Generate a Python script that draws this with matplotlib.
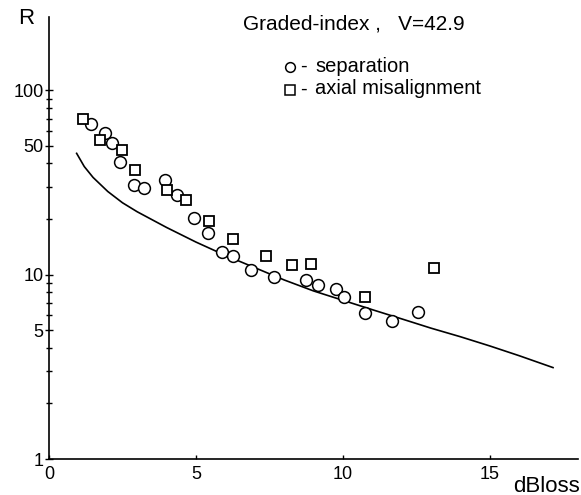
import matplotlib
matplotlib.use("Agg")
import matplotlib.pyplot as plt
from matplotlib.ticker import FixedLocator, NullFormatter
from matplotlib.lines import Line2D

plt.rcParams['font.family'] = ['Liberation Sans', 'DejaVu Sans']

# separation (circles)
sep_x = [1.42, 1.90, 2.13, 2.41, 2.90, 3.23, 3.95, 4.34, 4.94, 5.40, 5.87, 6.27,
         6.86, 7.65, 8.73, 9.16, 9.78, 10.03, 10.76, 11.67, 12.56]
sep_y = [65.2, 58.7, 51.8, 40.6, 30.4, 29.5, 32.5, 27.0, 20.2, 16.9, 13.3, 12.6,
         10.6, 9.73, 9.3, 8.77, 8.34, 7.55, 6.21, 5.62, 6.24]

# axial misalignment (squares)
axm_x = [1.15, 1.73, 2.50, 2.93, 4.00, 4.66, 5.45, 6.27, 7.37, 8.27, 8.93, 10.75, 13.10]
axm_y = [69.6, 53.6, 47.3, 36.8, 28.7, 25.3, 19.6, 15.5, 12.6, 11.2, 11.4, 7.58, 10.9]

# theoretical curve
cur_x = [0.94, 1.2, 1.5, 2.0, 2.5, 3.0, 4.0, 5.0, 6.0, 7.0, 8.0, 9.0, 10.0,
         11.0, 12.0, 13.0, 14.0, 15.0, 16.0, 17.15]
cur_y = [45.4, 38.5, 33.6, 28.2, 24.5, 21.9, 18.0, 15.0, 12.7, 10.9, 9.35, 8.15, 7.25,
         6.45, 5.75, 5.12, 4.6, 4.1, 3.63, 3.13]

xticks = [0, 5, 10, 15]
yticks = [1, 5, 10, 50, 100]
yminor = [2, 3, 4, 6, 7, 8, 9, 20, 30, 40, 60, 70, 80, 90]

fig = plt.figure(figsize=(5.81, 4.95), dpi=100)
ax = fig.add_axes([49/581, 36/495, 529/581, 442/495])
ax.set_yscale('log')
ax.set_xlim(0, 18.0)
ax.set_ylim(1, 249)

ax.plot(cur_x, cur_y, color='black', lw=1.2)
ax.plot(sep_x, sep_y, 'o', mfc='white', mec='black', ms=8.5, mew=1.1, ls='none')
ax.plot(axm_x, axm_y, 's', mfc='white', mec='black', ms=7.5, mew=1.3, ls='none')

for s in ['top', 'right']:
    ax.spines[s].set_visible(False)
for s in ['left', 'bottom']:
    ax.spines[s].set_linewidth(1.2)

ax.yaxis.set_major_locator(FixedLocator(yticks))
ax.yaxis.set_minor_locator(FixedLocator(yminor))
ax.yaxis.set_minor_formatter(NullFormatter())
ax.set_yticklabels([str(v) for v in yticks])
ax.set_xticks(xticks)
ax.set_xticklabels([str(v) for v in xticks])
ax.tick_params(axis='y', which='major', direction='inout', length=6, width=1, labelsize=13, pad=1)
ax.tick_params(axis='y', which='minor', direction='inout', length=4, width=1)
ax.tick_params(axis='x', which='major', direction='in', length=3, width=1, labelsize=13, pad=5)

fig.text(26/581, 1 - 18/495, 'R', fontsize=16, ha='center', va='center')
fig.text(546/581, 1 - 486/495, 'dBloss', fontsize=16, ha='center', va='center')

fig.text(243/581, 1 - 24/495, 'Graded-index ,   V=42.9', fontsize=15, ha='left', va='center')
fig.text(300/581, 1 - 66/495, '-', fontsize=14.5, ha='left', va='center')
fig.text(315/581, 1 - 66/495, 'separation', fontsize=14.5, ha='left', va='center')
fig.text(300/581, 1 - 89/495, '-', fontsize=14.5, ha='left', va='center')
fig.text(315/581, 1 - 89/495, 'axial misalignment', fontsize=14.5, ha='left', va='center')
fig.lines.append(Line2D([290/581], [1 - 67/495], marker='o', mfc='white', mec='black',
                        ms=7, mew=1.1, transform=fig.transFigure, ls='none'))
fig.lines.append(Line2D([290/581], [1 - 90/495], marker='s', mfc='white', mec='black',
                        ms=6.5, mew=1.1, transform=fig.transFigure, ls='none'))

fig.savefig('out.png', dpi=100)
